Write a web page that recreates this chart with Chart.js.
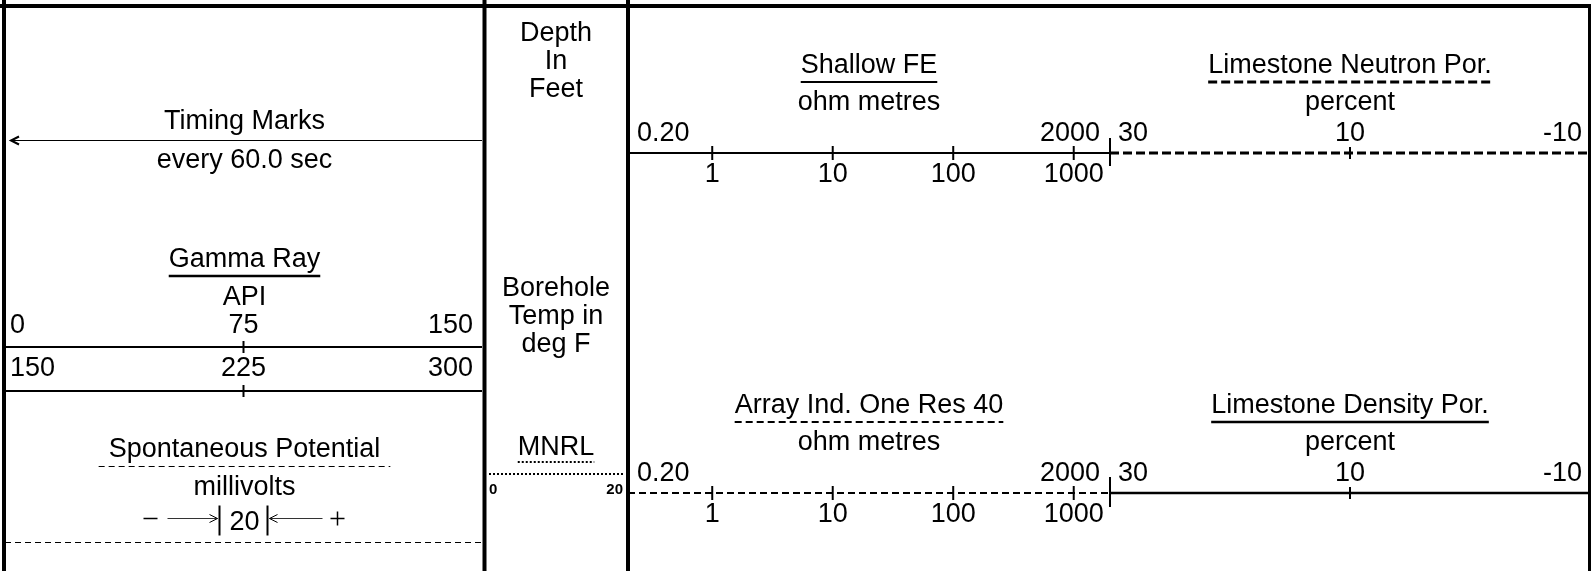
<!DOCTYPE html>
<html>
<head>
<meta charset="utf-8">
<script src="https://cdn.jsdelivr.net/npm/chart.js@4.4.1/dist/chart.umd.min.js"></script>
<style>
  body { margin: 0; background: #fff; }
  #wrap { position: relative; width: 1591px; height: 571px; }
  #wrap canvas { position: absolute; left: 0; top: 0; }
</style>
</head>
<body>
<div id="wrap">
  <canvas id="trackLeft" width="1591" height="571"></canvas>
  <canvas id="trackDepth" width="1591" height="571"></canvas>
  <canvas id="trackRes" width="1591" height="571"></canvas>
  <canvas id="trackPor" width="1591" height="571"></canvas>
</div>
<script>
const gammaScale = [0, 150];
const gammaBackupScale = [150, 300];
const gammaTicks = [75];
const gammaBackupTicks = [225];
const gammaLabels = ["0", "75", "150"];
const gammaBackupLabels = ["150", "225", "300"];

const resScale = [0.2, 2000];
const resTicks = [1, 10, 100, 1000];
const resEndLabels = ["0.20", "2000"];
const resTickLabels = ["1", "10", "100", "1000"];

const porScale = [30, -10];
const porTicks = [10];
const porLabels = ["30", "10", "-10"];

const mnrlScale = [0, 20];
const mnrlLabels = ["0", "20"];
const spDivision = "20";

const timingText = ["Timing Marks", "every 60.0 sec"];
const depthText = ["Depth", "In", "Feet"];
const tempText = ["Borehole", "Temp in", "deg F"];

const curveTitles = {
  shallow: "Shallow FE",
  array: "Array Ind. One Res 40",
  neutron: "Limestone Neutron Por.",
  density: "Limestone Density Por.",
  gamma: "Gamma Ray",
  sp: "Spontaneous Potential",
  mnrl: "MNRL",
};
const curveUnits = {
  res: "ohm metres",
  por: "percent",
  gamma: "API",
  sp: "millivolts",
};

// --- page layout (px) ---
const W = 1591, H = 571;
const FONT = '27px "Liberation Sans", Arial, sans-serif';
const SMALL = 'bold 15px "Liberation Sans", Arial, sans-serif';

const tracks = {
  left: [5, 482],
  depth: [489, 623],
  res: [628, 1110],
  por: [1110, 1590],
};
const rowTop = { title: 73, underline: 82, unit: 110, labels: 141, line: 153, below: 182 };
const rowBot = { title: 413, underline: 422, unit: 450, labels: 481, line: 493, below: 522 };
const rowLeft = {
  timingTitle: 129, timingLine: 140.5, timingSub: 168,
  gamma: { title: 267, underline: 276, unit: 305 },
  gammaLabels: 333, gammaLine: 347, backupLabels: 376, backupLine: 391,
  sp: { title: 457, underline: 466.5, unit: 495 },
  spLegend: 518.5, spLine: 542.5,
};
const rowDepth = { lines: [41, 69, 97], temp: [296, 324, 352], mnrl: 455, mnrlUnder: 462, mnrlLine: 474, mnrlLabels: 494 };

const solid2 = { width: 2 };
const solid1 = { width: 1 };
const dash2 = { width: 2, dash: [7, 4] };
const dash3 = { width: 3, dash: [9, 4] };
const dashThin = { width: 1, dash: [6, 4] };
const dot2 = { width: 2, dash: [2, 2] };

// --- drawing helpers ---
function txt(ctx, s, x, y, align = "center", font = FONT) {
  ctx.font = font;
  ctx.textAlign = align;
  ctx.textBaseline = "alphabetic";
  ctx.fillStyle = "#000";
  ctx.fillText(s, x, y);
}
function rule(ctx, x1, y1, x2, y2, style, color = "#000") {
  ctx.save();
  ctx.beginPath();
  ctx.strokeStyle = color;
  ctx.lineWidth = style.width;
  ctx.setLineDash(style.dash || []);
  ctx.moveTo(x1, y1);
  ctx.lineTo(x2, y2);
  ctx.stroke();
  ctx.restore();
}
function header(ctx, title, unit, cx, row, style, pad = 0) {
  txt(ctx, title, cx, row.title);
  ctx.font = FONT;
  const w = ctx.measureText(title).width;
  rule(ctx, cx - w / 2 - pad, row.underline, cx + w / 2 + pad, row.underline, style);
  if (unit) txt(ctx, unit, cx, row.unit);
}
function arrowHead(ctx, x, y, dir, width = 1.5) {
  ctx.save();
  ctx.beginPath();
  ctx.strokeStyle = "#000";
  ctx.lineWidth = width;
  ctx.moveTo(x - dir * 8, y - 4);
  ctx.lineTo(x, y);
  ctx.lineTo(x - dir * 8, y + 4);
  ctx.stroke();
  ctx.restore();
}

function scaleLine(xAxisID, range, y, style) {
  return {
    type: "line", xAxisID,
    data: [{ x: range[0], y }, { x: range[1], y }],
    borderColor: "#000", borderWidth: style.width, borderDash: style.dash || [],
    pointRadius: 0, clip: false,
  };
}
function tickMarks(xAxisID, values, y, size) {
  return {
    type: "line", xAxisID, showLine: false,
    data: values.map(v => ({ x: v, y })),
    pointStyle: "line", pointRotation: 90, pointRadius: size,
    pointBorderColor: "#000", pointBorderWidth: 2, clip: false,
  };
}

function makeTrack(id, bounds, xScales, datasets, draw) {
  return new Chart(document.getElementById(id), {
    type: "line",
    data: { datasets },
    options: {
      responsive: false,
      animation: false,
      devicePixelRatio: 1,
      events: [],
      layout: { autoPadding: false, padding: { left: bounds[0], right: W - bounds[1], top: 0, bottom: 0 } },
      scales: {
        ...xScales,
        y: { type: "linear", min: 0, max: H, reverse: true, display: false },
      },
      plugins: { legend: { display: false }, tooltip: { enabled: false } },
    },
    plugins: [{ id: id + "Text", afterDatasetsDraw: chart => draw(chart.ctx, chart) }],
  });
}

// --- left track: timing, gamma ray, SP ---
makeTrack("trackLeft", tracks.left,
  {
    x: { type: "linear", min: gammaScale[0], max: gammaScale[1], display: false },
    x2: { type: "linear", min: gammaBackupScale[0], max: gammaBackupScale[1], display: false },
  },
  [
    scaleLine("x", gammaScale, rowLeft.gammaLine, solid2),
    tickMarks("x", gammaTicks, rowLeft.gammaLine, 6),
    scaleLine("x2", gammaBackupScale, rowLeft.backupLine, solid2),
    tickMarks("x2", gammaBackupTicks, rowLeft.backupLine, 6),
    scaleLine("x", gammaScale, rowLeft.spLine, dashThin),
  ],
  (ctx, chart) => {
    // frame
    ctx.fillStyle = "#000";
    ctx.fillRect(0, 4, W, 4);
    ctx.fillRect(2, 0, 4, H);
    ctx.fillRect(482.5, 0, 4, H);
    ctx.fillRect(626, 0, 4, H);
    ctx.fillRect(1588, 4, 3, H);

    const a = chart.chartArea;
    const cx = (a.left + a.right) / 2 + 1;
    const xs = chart.scales.x, xb = chart.scales.x2;

    // timing marks
    txt(ctx, timingText[0], cx, rowLeft.timingTitle);
    rule(ctx, a.left + 6, rowLeft.timingLine, a.right, rowLeft.timingLine, solid1);
    arrowHead(ctx, a.left + 6, rowLeft.timingLine, -1, 2);
    txt(ctx, timingText[1], cx, rowLeft.timingSub);

    // gamma ray
    header(ctx, curveTitles.gamma, curveUnits.gamma, cx, rowLeft.gamma, { width: 2.5 });
    txt(ctx, gammaLabels[0], xs.getPixelForValue(gammaScale[0]) + 5, rowLeft.gammaLabels, "left");
    txt(ctx, gammaLabels[1], xs.getPixelForValue(gammaTicks[0]), rowLeft.gammaLabels);
    txt(ctx, gammaLabels[2], xs.getPixelForValue(gammaScale[1]) - 9, rowLeft.gammaLabels, "right");
    txt(ctx, gammaBackupLabels[0], xb.getPixelForValue(gammaBackupScale[0]) + 5, rowLeft.backupLabels, "left");
    txt(ctx, gammaBackupLabels[1], xb.getPixelForValue(gammaBackupTicks[0]), rowLeft.backupLabels);
    txt(ctx, gammaBackupLabels[2], xb.getPixelForValue(gammaBackupScale[1]) - 9, rowLeft.backupLabels, "right");

    // spontaneous potential
    header(ctx, curveTitles.sp, curveUnits.sp, cx, rowLeft.sp, dashThin, 10);
    const y = rowLeft.spLegend, c = cx;
    rule(ctx, c - 101, y, c - 87, y, { width: 1.5 });
    rule(ctx, c - 77, y, c - 27, y, solid1, "#333");
    arrowHead(ctx, c - 27, y, 1, 1);
    rule(ctx, c - 25, y - 13, c - 25, y + 17, solid2);
    txt(ctx, spDivision, c, y + 11);
    rule(ctx, c + 23, y - 13, c + 23, y + 17, solid2);
    rule(ctx, c + 25, y, c + 78, y, solid1, "#333");
    arrowHead(ctx, c + 25, y, -1, 1);
    rule(ctx, c + 86, y, c + 100, y, { width: 1.5 });
    rule(ctx, c + 93, y - 7, c + 93, y + 7, { width: 1.5 });
  }
);

// --- depth track ---
makeTrack("trackDepth", tracks.depth,
  { x: { type: "linear", min: mnrlScale[0], max: mnrlScale[1], display: false } },
  [scaleLine("x", mnrlScale, rowDepth.mnrlLine, dot2)],
  (ctx, chart) => {
    const a = chart.chartArea;
    const cx = (a.left + a.right) / 2;
    const xs = chart.scales.x;
    depthText.forEach((s, i) => txt(ctx, s, cx, rowDepth.lines[i]));
    tempText.forEach((s, i) => txt(ctx, s, cx, rowDepth.temp[i]));
    header(ctx, curveTitles.mnrl, null, cx, { title: rowDepth.mnrl, underline: rowDepth.mnrlUnder }, dot2);
    txt(ctx, mnrlLabels[0], xs.getPixelForValue(mnrlScale[0]), rowDepth.mnrlLabels, "left", SMALL);
    txt(ctx, mnrlLabels[1], xs.getPixelForValue(mnrlScale[1]), rowDepth.mnrlLabels, "right", SMALL);
  }
);

// --- resistivity track ---
makeTrack("trackRes", tracks.res,
  { x: { type: "logarithmic", min: resScale[0], max: resScale[1], display: false } },
  [
    scaleLine("x", resScale, rowTop.line, solid2),
    tickMarks("x", resTicks, rowTop.line, 7),
    scaleLine("x", resScale, rowBot.line, dash2),
    tickMarks("x", resTicks, rowBot.line, 7),
  ],
  (ctx, chart) => {
    const a = chart.chartArea;
    const cx = (a.left + a.right) / 2;
    const xs = chart.scales.x;
    [[rowTop, curveTitles.shallow, solid2], [rowBot, curveTitles.array, dash2]].forEach(([row, title, style]) => {
      header(ctx, title, curveUnits.res, cx, row, style);
      txt(ctx, resEndLabels[0], xs.getPixelForValue(resScale[0]) + 9, row.labels, "left");
      txt(ctx, resEndLabels[1], xs.getPixelForValue(resScale[1]) - 10, row.labels, "right");
      resTicks.forEach((v, i) => txt(ctx, resTickLabels[i], xs.getPixelForValue(v), row.below));
    });
  }
);

// --- porosity track ---
makeTrack("trackPor", tracks.por,
  {
    x: {
      type: "linear", display: false,
      min: Math.min(...porScale), max: Math.max(...porScale),
      reverse: porScale[0] > porScale[1],
    },
  },
  [
    scaleLine("x", porScale, rowTop.line, dash3),
    tickMarks("x", porTicks, rowTop.line, 6),
    tickMarks("x", [porScale[0]], rowTop.line - 1, 14),
    scaleLine("x", porScale, rowBot.line, { width: 2.5 }),
    tickMarks("x", porTicks, rowBot.line, 6),
    tickMarks("x", [porScale[0]], rowBot.line - 1, 15),
  ],
  (ctx, chart) => {
    const a = chart.chartArea;
    const cx = (a.left + a.right) / 2;
    const xs = chart.scales.x;
    [[rowTop, curveTitles.neutron, dash3], [rowBot, curveTitles.density, { width: 2.5 }]].forEach(([row, title, style]) => {
      header(ctx, title, curveUnits.por, cx, row, style);
      txt(ctx, porLabels[0], xs.getPixelForValue(porScale[0]) + 8, row.labels, "left");
      txt(ctx, porLabels[1], xs.getPixelForValue(porTicks[0]), row.labels);
      txt(ctx, porLabels[2], xs.getPixelForValue(porScale[1]) - 8, row.labels, "right");
    });
  }
);
</script>
</body>
</html>
